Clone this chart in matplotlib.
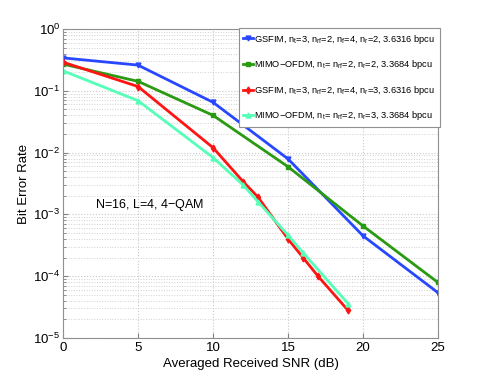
import matplotlib
matplotlib.use("Agg")
import matplotlib.pyplot as plt
import numpy as np

plt.rcParams['font.family'] = ['Liberation Sans', 'DejaVu Sans']
plt.rcParams['mathtext.fontset'] = 'custom'
plt.rcParams['mathtext.rm'] = 'Liberation Sans'
plt.rcParams['mathtext.it'] = 'Liberation Sans'
plt.rcParams['mathtext.default'] = 'regular'

snr_a = [0, 5, 10, 15, 20, 25]
ber_gsfim_nr2 = [0.34, 0.26, 0.065, 0.0079, 4.5e-4, 5.4e-5]
ber_mimo_nr2 = [0.27, 0.142, 0.040, 0.0059, 6.5e-4, 7.9e-5]

snr_b = [0, 5, 10, 12, 13, 15, 16, 17, 19]
ber_gsfim_nr3 = [0.29, 0.117, 0.012, 3.4e-3, 1.9e-3, 4.0e-4, 2.0e-4, 1.0e-4, 2.8e-5]
snr_c = [0, 5, 10, 12, 13, 15, 16, 19]
ber_mimo_nr3 = [0.21, 0.069, 0.0083, 3.0e-3, 1.6e-3, 4.6e-4, 2.4e-4, 3.6e-5]

labels = [
    r'GSFIM, n$_t$=3, n$_{rf}$=2, n$_f$=4, n$_r$=2, 3.6316 bpcu',
    r'MIMO$-$OFDM, n$_t$= n$_{rf}$=2, n$_r$=2, 3.3684 bpcu',
    r'GSFIM, n$_t$=3, n$_{rf}$=2, n$_f$=4, n$_r$=3, 3.6316 bpcu',
    r'MIMO$-$OFDM, n$_t$= n$_{rf}$=2, n$_r$=3, 3.3684 bpcu',
]
colors = ['#2848ff', '#2a9a12', '#ff1414', '#55ffb8']

fig = plt.figure(figsize=(4.85, 3.81), dpi=100)
ax = fig.add_axes([0.13, 0.113, 0.773, 0.811])

ax.semilogy(snr_a, ber_gsfim_nr2, '-v', color=colors[0], lw=2, ms=3.5, label=labels[0])
ax.semilogy(snr_a, ber_mimo_nr2, '-s', color=colors[1], lw=2, ms=3, label=labels[1])
ax.semilogy(snr_b, ber_gsfim_nr3, '-d', color=colors[2], lw=2, ms=3.5, label=labels[2])
ax.semilogy(snr_c, ber_mimo_nr3, '-^', color=colors[3], lw=2, ms=3.5, label=labels[3])

ax.set_xlim(0, 25)
ax.set_ylim(1e-5, 1)
ax.set_xticks([0, 5, 10, 15, 20, 25])
ax.grid(True, which='major', ls=':', color='#c8c8c8', lw=0.8)
ax.grid(True, which='minor', axis='y', ls=':', color='#d0d0d0', lw=0.7)
ax.tick_params(which='both', direction='in', labelsize=9.5, color='#808080', pad=3)
ax.tick_params(axis='y', pad=2)
for s in ax.spines.values():
    s.set_color('#909090')

ax.set_xlabel('Averaged Received SNR (dB)', fontsize=9.5, labelpad=3)
ax.set_ylabel('Bit Error Rate', fontsize=9.5)
ax.yaxis.set_label_coords(-0.088, 0.5)
ax.text(2.1, 1.4e-3, 'N=16, L=4, 4$-$QAM', fontsize=9, va='center')

leg = ax.legend(loc='upper right', bbox_to_anchor=(1.006, 1.003), borderaxespad=0,
                fontsize=6.7, fancybox=False, framealpha=1, edgecolor='#909090',
                handlelength=1.0, handletextpad=0.2, labelspacing=1.35, borderpad=0.5)
leg.get_frame().set_linewidth(0.8)

fig.savefig('out.png', dpi=100)
